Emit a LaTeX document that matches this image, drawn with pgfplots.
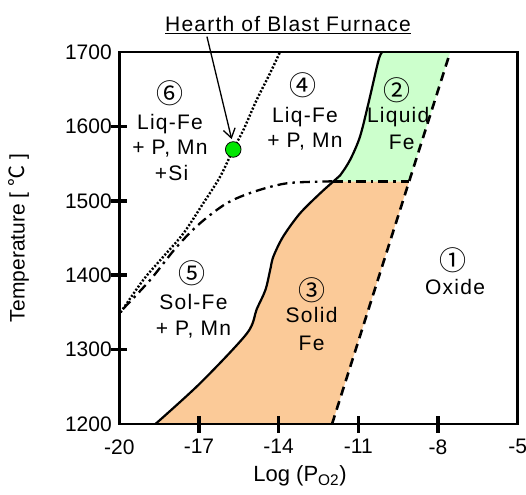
\documentclass[border=0pt]{standalone}
\usepackage{fontspec}
\setmainfont{Liberation Sans}
\newfontfamily\cjk{Noto Sans CJK JP}
\newfontfamily\lsp[LetterSpace=6]{Liberation Sans}
\usepackage{pgfplots}
\pgfplotsset{compat=1.18}
\usetikzlibrary{arrows.meta}
\definecolor{peach}{RGB}{251,202,152}
\definecolor{mint}{RGB}{204,255,204}
\definecolor{dotgreen}{RGB}{0,230,0}
\begin{document}
\begin{tikzpicture}[
  lab/.style={font=\lsp\fontsize{21}{24}\selectfont, inner sep=0pt, text height=15pt, text depth=0pt},
  circ/.style={font=\cjk\fontsize{27}{29}\selectfont, inner sep=0pt, text height=23.8pt, text depth=3.2pt},
  tk/.style={line width=3.6pt, black},
]
\useasboundingbox (-119.3pt,-70pt) rectangle (406.7pt,424pt);
\begin{axis}[at={(0,0)}, anchor=south west, scale only axis,
  width=398.4pt, height=372pt,
  xmin=-20, xmax=-5, ymin=1200, ymax=1700,
  xtick={-20,-17,...,-5}, ytick={1200,1300,...,1700},
  xtick pos=bottom, ytick pos=left, tick align=center,
  major tick length=0pt,
  axis line style={line width=2.6pt},
  tick label style={font=\fontsize{21}{24}\selectfont},
  xticklabel style={yshift=-12pt},
  yticklabel style={xshift=-4pt},
  /pgf/number format/assume math mode=true,
  /pgf/number format/1000 sep={},
  clip=false,
]
% filled regions
\addplot[fill=peach, draw=none] coordinates {
 (-18.64,1200) (-16.95,1255) (-15.19,1322) (-14.83,1354) (-14.50,1380)
 (-14.32,1407) (-14.20,1425) (-13.83,1452) (-13.20,1483) (-12.44,1510)
 (-11.94,1526) (-9.09,1526) (-11.99,1200)} -- cycle;
\addplot[fill=mint, draw=none] coordinates {
 (-11.94,1526) (-11.69,1534) (-11.31,1555) (-10.94,1586) (-10.62,1631)
 (-10.24,1689) (-10.10,1700) (-7.54,1700) (-9.09,1526)} -- cycle;
% solid boundary
\addplot[black, line width=2.2pt, smooth] coordinates {
 (-18.64,1200) (-16.95,1255) (-15.19,1322) (-14.83,1354) (-14.50,1380)
 (-14.32,1407) (-14.20,1425) (-13.83,1452) (-13.20,1483) (-12.44,1510)
 (-11.94,1526) (-11.69,1534) (-11.31,1555) (-10.94,1586) (-10.62,1631)
 (-10.24,1689) (-10.10,1700)};
% dashed boundary
\addplot[black, line width=2.6pt, dash pattern=on 9pt off 6pt] coordinates {
 (-11.99,1200) (-7.54,1700)};
% dash-dot boundary
\addplot[black, line width=2.3pt, dash pattern=on 10pt off 5pt on 2.5pt off 5pt, smooth] coordinates {
 (-19.85,1355) (-18.84,1393.5) (-17.84,1438) (-16.96,1469.8) (-15.96,1496.6)
 (-14.95,1512) (-13.70,1523.5) (-12.19,1526) (-11.94,1526)};
\addplot[black, line width=2.3pt, dash pattern=on 10pt off 5pt on 2.5pt off 5pt] coordinates {
 (-11.94,1526) (-9.09,1526)};
% dotted boundary
\addplot[black, line width=2.4pt, dash pattern=on 2pt off 1.8pt, smooth] coordinates {
 (-19.95,1350) (-19.10,1393.5) (-18.34,1425) (-17.59,1456) (-16.84,1496.6)
 (-16.21,1532) (-15.71,1569) (-15.33,1595) (-14.83,1635.5) (-14.33,1671) (-13.95,1700)};
% hearth point
\addplot[only marks, mark=*, mark size=7.8pt, mark options={fill=dotgreen, draw=black, line width=0.8pt}] coordinates {(-15.71,1569)};
\draw[line width=1.3pt, -{Straight Barb[length=9pt,width=12pt]}] (axis cs:-16.70,1720.7) -- (axis cs:-15.77,1583);
\node[lab] at (axis cs:-13.65,1738) {\underline{Hearth of Blast Furnace}};
% frame and tick marks
\draw[line width=2.6pt, black] (rel axis cs:0,0) rectangle (rel axis cs:1,1);
\draw[tk] (axis cs:-17,1188) -- (axis cs:-17,1210.5);
\draw[tk] (axis cs:-14,1188) -- (axis cs:-14,1210.5);
\draw[tk] (axis cs:-11,1188) -- (axis cs:-11,1210.5);
\draw[tk] (axis cs:-8,1188) -- (axis cs:-8,1210.5);
\draw[tk] (axis cs:-20.3,1300) -- (axis cs:-19.7,1300);
\draw[tk] (axis cs:-20.3,1400) -- (axis cs:-19.7,1400);
\draw[tk] (axis cs:-20.3,1500) -- (axis cs:-19.7,1500);
\draw[tk] (axis cs:-20.3,1600) -- (axis cs:-19.7,1600);
% region labels
\node[circ] at (axis cs:-18.09,1644.5) {⑥};
\node[lab] at (axis cs:-18.09,1606.3) {Liq-Fe};
\node[lab] at (axis cs:-18.09,1572.7) {+ P, Mn};
\node[lab] at (axis cs:-18.03,1537.0) {+Si};
\node[circ] at (axis cs:-13.07,1655.6) {④};
\node[lab] at (axis cs:-13.01,1615.3) {Liq-Fe};
\node[lab] at (axis cs:-13.01,1581.7) {+ P, Mn};
\node[circ] at (axis cs:-9.54,1649) {②};
\node[lab] at (axis cs:-9.50,1615.3) {Liquid};
\node[lab] at (axis cs:-9.37,1579.4) {Fe};
\node[circ] at (axis cs:-17.27,1402.6) {⑤};
\node[lab] at (axis cs:-17.21,1364.4) {Sol-Fe};
\node[lab] at (axis cs:-17.21,1328.6) {+ P, Mn};
\node[circ] at (axis cs:-12.76,1380.1) {③};
\node[lab] at (axis cs:-12.76,1346.5) {Solid};
\node[lab] at (axis cs:-12.76,1308.5) {Fe};
\node[circ] at (axis cs:-7.42,1420.4) {①};
\node[lab] at (axis cs:-7.36,1384.5) {Oxide};
% axis labels
\node[font=\fontsize{22}{24}\selectfont, inner sep=0pt] at (rel axis cs:0.4536,-0.14) {Log (P\textsubscript{O2})};
\node[font=\fontsize{21}{24}\selectfont, inner sep=0pt, rotate=90] at (rel axis cs:-0.252,0.5) {Temperature [ {\cjk ℃} ]};
\end{axis}
\end{tikzpicture}
\end{document}
